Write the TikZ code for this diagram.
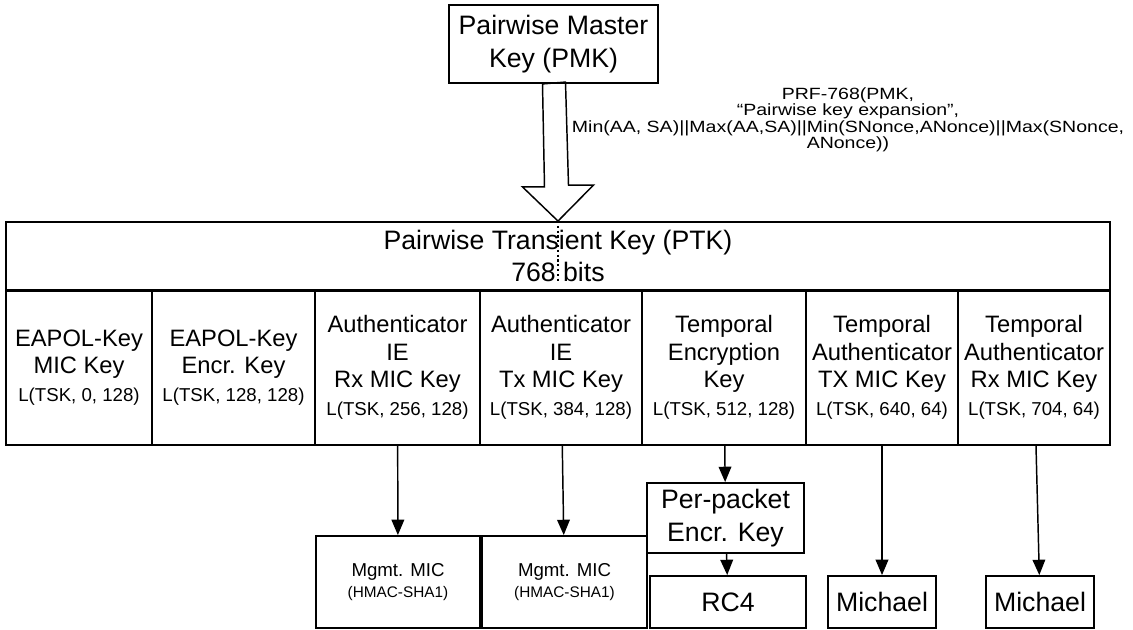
\documentclass[tikz,border=0pt]{standalone}
\usepackage{fontspec}
\setmainfont{Liberation Sans}
\newfontfamily\prffont{Liberation Sans}[FakeStretch=1.2]
\usetikzlibrary{arrows.meta}
\newcommand\bigsize{\fontsize{20}{24.5}\selectfont}
\newcommand\colsize{\fontsize{17.8}{20.6}\selectfont}
\newcommand\lsize{\fontsize{14}{17}\selectfont}
\newcommand\mgmtsize{\fontsize{14}{16}\selectfont}
\newcommand\hmacsize{\fontsize{11.5}{14}\selectfont}
\newcommand\prfsize{\prffont\fontsize{12.2}{10}\selectfont}
\tikzset{
  keybox/.style={draw, line width=1.4pt, inner sep=0pt, align=center},
  cell/.style={keybox, minimum height=116.25pt, font=\colsize},
  keyarrow/.style={line width=1.1pt, -{Triangle[length=11.5pt,width=9.5pt]}},
}
\begin{document}
\begin{tikzpicture}[x=0.75pt,y=-0.75pt]
    \useasboundingbox (0,0) rectangle (1133,630);
    % master key and derivation
    \node[keybox, minimum width=156.75pt, minimum height=58.5pt, font=\bigsize] (pmk) at (553.5,44) {Pairwise Master\\Key (PMK)};
    \node[keybox, minimum width=828pt, minimum height=51pt, font=\bigsize] (ptk) at (558,256) {Pairwise Transient Key (PTK)\\768 bits};
    \node[align=center, inner sep=0pt, font=\prfsize] (prf) at (848,120) {PRF-768(PMK,\\“Pairwise key expansion”,\\Min(AA, SA)||Max(AA,SA)||Min(SNonce,ANonce)||Max(SNonce,\\ANonce))};
    \draw[line width=1.1pt] (pmk.south) ++(-11,0) -- ++(2,103) -- ++(-22,0) -- (ptk.north) -- ++(35.5,-36) -- ++(-25,0) -- ++(-3,-103) -- cycle;
    \draw[dotted, line width=1.6pt] (ptk.north) -- ++(0,61);
    % the seven keys of the PTK
    \node[cell, minimum width=109.5pt] (micKey) at (79,367.5) {EAPOL-Key\\MIC Key\\{\lsize L(TSK, 0, 128)}};
    \node[cell, minimum width=122.25pt] (encrKey) at (233.5,367.5) {EAPOL-Key\\Encr. Key\\{\lsize L(TSK, 128, 128)}};
    \node[cell, minimum width=123.75pt] (rxKey) at (397.5,367.5) {Authenticator\\IE\\Rx MIC Key\\{\lsize L(TSK, 256, 128)}};
    \node[cell, minimum width=121.5pt] (txKey) at (561,367.5) {Authenticator\\IE\\Tx MIC Key\\{\lsize L(TSK, 384, 128)}};
    \node[cell, minimum width=123pt] (tempKey) at (724,367.5) {Temporal\\Encryption\\Key\\{\lsize L(TSK, 512, 128)}};
    \node[cell, minimum width=114pt] (tempTx) at (882,367.5) {Temporal\\Authenticator\\TX MIC Key\\{\lsize L(TSK, 640, 64)}};
    \node[cell, minimum width=114pt] (tempRx) at (1034,367.5) {Temporal\\Authenticator\\Rx MIC Key\\{\lsize L(TSK, 704, 64)}};
    \draw[line width=2.3pt] (ptk.south west) -- (ptk.south east);
    % where the keys are used
    \node[keybox, minimum width=123pt, minimum height=69pt, font=\mgmtsize] (mgmtRx) at (398,582) {Mgmt. MIC\\{\hmacsize (HMAC-SHA1)}};
    \node[keybox, minimum width=123.75pt, minimum height=69pt, font=\mgmtsize] (mgmtTx) at (564.5,582) {Mgmt. MIC\\{\hmacsize (HMAC-SHA1)}};
    \node[keybox, minimum width=117.75pt, minimum height=52.5pt, font=\bigsize] (perPacket) at (725.5,518) {Per-packet\\Encr. Key};
    \node[keybox, minimum width=117pt, minimum height=39pt, font=\bigsize] (rcFour) at (728,602) {RC4};
    \node[keybox, minimum width=81pt, minimum height=39pt, font=\bigsize] (michaelTx) at (882,602) {Michael};
    \node[keybox, minimum width=81pt, minimum height=39pt, font=\bigsize] (michaelRx) at (1040,602) {Michael};
    \foreach \a/\b in {rxKey/mgmtRx, txKey/mgmtTx, tempKey/perPacket, perPacket/rcFour, tempTx/michaelTx, tempRx/michaelRx}
    \draw[keyarrow] (\a) -- (\b);
\end{tikzpicture}
\end{document}
